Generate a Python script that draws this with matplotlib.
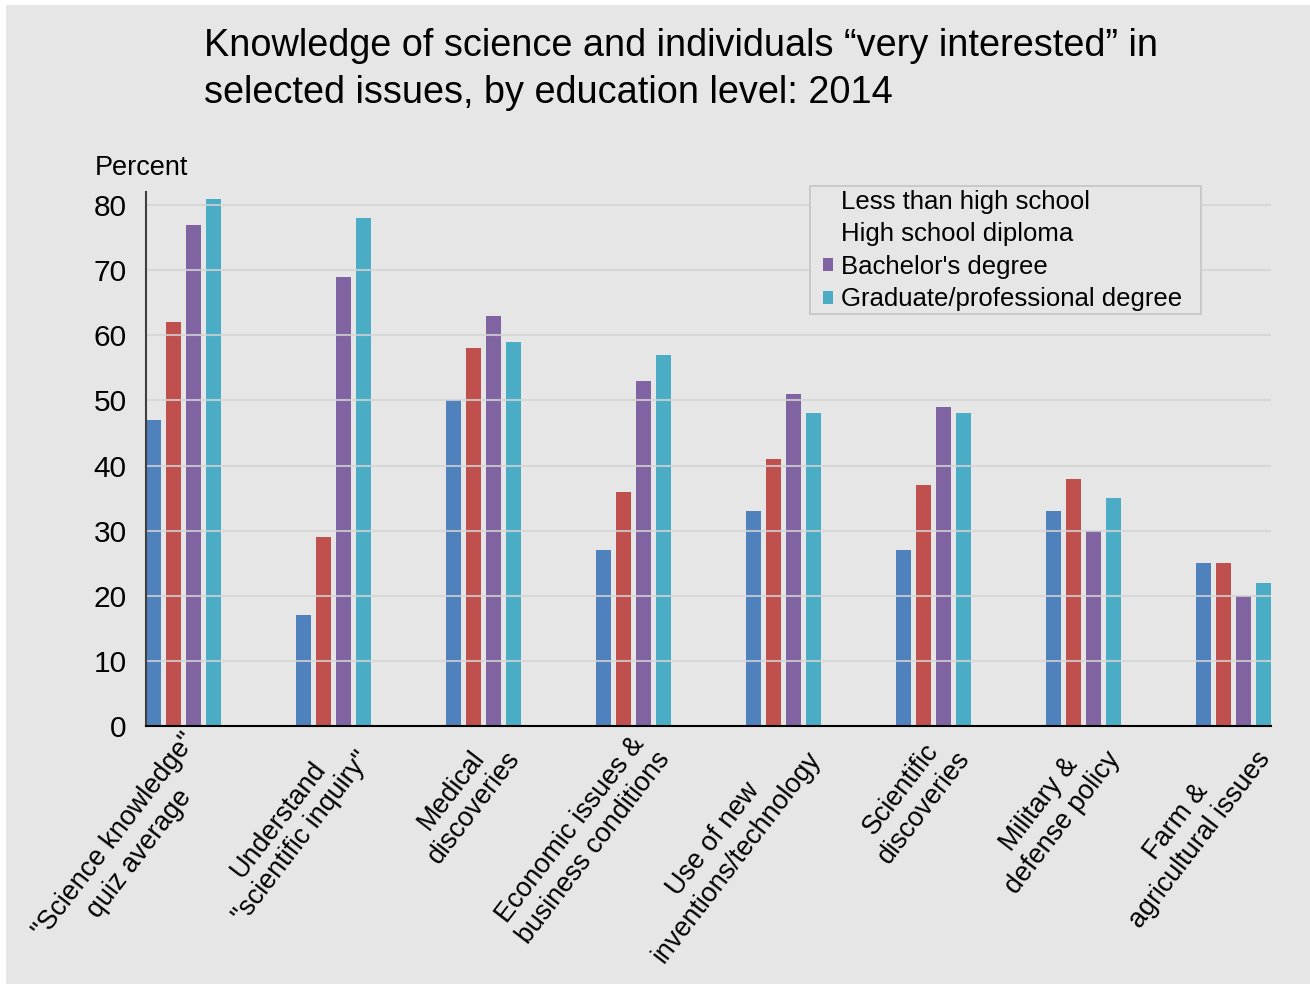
import matplotlib
matplotlib.use('Agg')
import matplotlib.pyplot as plt
import matplotlib.transforms as mtransforms
from matplotlib.patches import Patch, Rectangle
import numpy as np

categories = ['"Science knowledge"\nquiz average',
              'Understand\n"scientific inquiry"',
              'Medical\ndiscoveries',
              'Economic issues &\nbusiness conditions',
              'Use of new\ninventions/technology',
              'Scientific\ndiscoveries',
              'Military &\ndefense policy',
              'Farm &\nagricultural issues']
series_names = ['Less than high school', 'High school diploma',
                "Bachelor's degree", 'Graduate/professional degree']
less_than_hs = [47, 17, 50, 27, 33, 27, 33, 25]
hs_diploma = [62, 29, 58, 36, 41, 37, 38, 25]
bachelors = [77, 69, 63, 53, 51, 49, 30, 20]
graduate = [81, 78, 59, 57, 48, 48, 35, 22]
y_ticks = [0, 10, 20, 30, 40, 50, 60, 70, 80]

series = [less_than_hs, hs_diploma, bachelors, graduate]
colors = ['#4F81BD', '#C0504D', '#8064A2', '#4BACC6']
bg = '#e6e6e6'

plt.rcParams['font.family'] = ['Liberation Sans', 'DejaVu Sans']

W, H = 1310, 984
fig = plt.figure(figsize=(W / 100, H / 100), dpi=100)
fig.patch.set_facecolor('white')
fig.patches.append(Rectangle((6 / W, 0), 1 - 6 / W, 1 - 5 / H, transform=fig.transFigure,
                             facecolor=bg, edgecolor='none', zorder=-10))

ax = fig.add_axes([146 / W, 1 - 726 / H, 1125 / W, 534 / H])
ax.set_facecolor(bg)

x = np.arange(len(categories))
width = 0.1
step = 20 / 150
for k, (vals, col) in enumerate(zip(series, colors)):
    ax.bar(x + (k - 1.5) * step, vals, width, color=col, zorder=2, clip_on=False,
           label=series_names[k])

ax.set_xlim(-0.25, 7.25)
ax.set_ylim(0, 82)
ax.set_yticks(y_ticks)
ax.set_axisbelow(False)
ax.yaxis.grid(True, color='#d4d4d4', alpha=0.8, linewidth=1.5)
ax.xaxis.grid(False)

for s in ['top', 'right']:
    ax.spines[s].set_visible(False)
ax.spines['left'].set_color('#404040')
ax.spines['left'].set_linewidth(1.5)
ax.spines['bottom'].set_color('black')
ax.spines['bottom'].set_linewidth(1.5)
ax.spines['left'].set_zorder(4)
ax.spines['bottom'].set_zorder(4)

ax.tick_params(axis='y', length=0, pad=14, labelsize=21.5)
ax.tick_params(axis='x', length=0, pad=6, labelsize=19.4)
ax.set_xticks(x)
ax.set_xticklabels(categories, rotation=52.5, ha='right', rotation_mode='anchor',
                   multialignment='center')
offset = mtransforms.ScaledTranslation(-0.02, 0.06, fig.dpi_scale_trans)
for lab in ax.get_xticklabels():
    lab.set_transform(lab.get_transform() + offset)

fig.text(204 / W, 1 - 28 / H,
         'Knowledge of science and individuals \u201cvery interested\u201d in\n'
         'selected issues, by education level: 2014',
         fontsize=27.3, va='top', ha='left', linespacing=1.38)
fig.text(95 / W, 1 - 175 / H, 'Percent', fontsize=19.5, va='baseline', ha='left')

# legend frame drawn separately so its padding can match the reference
fig.patches.append(Rectangle((810 / W, 1 - 314 / H), 391 / W, 128 / H,
                             transform=fig.transFigure, facecolor=bg,
                             edgecolor='#c4c4c4', linewidth=1.2, zorder=5))
handles = [Patch(facecolor='none', edgecolor='none'),
           Patch(facecolor='none', edgecolor='none'),
           Patch(facecolor=colors[2], edgecolor='none'),
           Patch(facecolor=colors[3], edgecolor='none')]
leg = fig.legend(handles, series_names, loc='upper left',
                 bbox_to_anchor=(823 / W, 1 - 190 / H), bbox_transform=fig.transFigure,
                 fontsize=18.5, frameon=False, borderaxespad=0,
                 handlelength=0.4, handleheight=0.4, handletextpad=0.3,
                 labelspacing=0.33, borderpad=0)
leg.set_zorder(6)

fig.savefig('out.png', dpi=100)
